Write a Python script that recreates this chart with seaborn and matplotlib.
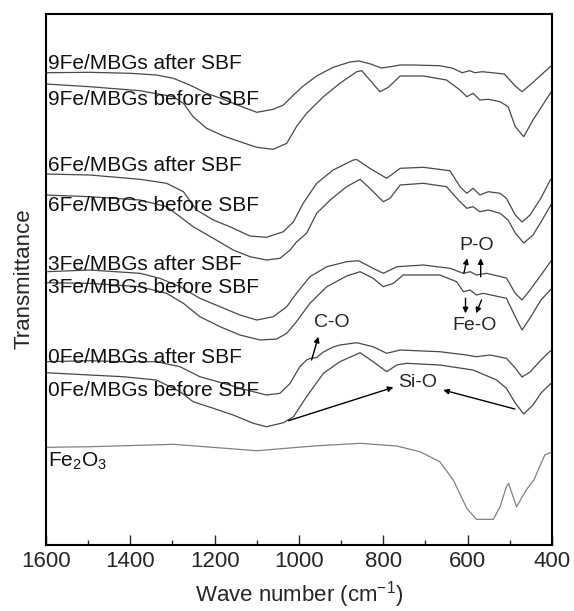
import numpy as np
import matplotlib
matplotlib.use("Agg")
import matplotlib.pyplot as plt
from matplotlib.ticker import MultipleLocator
import seaborn as sns

# FTIR spectra (wave number in cm-1, vertical
# position as depth from the top of the frame in px, converted below)
w_9fe_after = [1600, 1496, 1400, 1338, 1298, 1259, 1219, 1179, 1140, 1100, 1061, 1037, 1013, 990, 958, 919, 879, 858,
               830, 805, 780, 760, 729, 666, 635, 613, 595, 583, 565, 513, 487, 471, 452, 426, 404, 400]
d_9fe_after = [72.7, 72.3, 73.3, 75, 78.3, 85, 93.3, 99.3, 106, 112.3, 109.3, 105, 95, 86, 76, 67.3, 62, 61,
               64, 68, 66.5, 65, 65, 65.7, 68.3, 72.7, 70.7, 72.7, 71.7, 74, 86, 91.7, 85, 75, 66.7, 65]

w_9fe_before = [1600, 1496, 1377, 1298, 1274, 1251, 1219, 1179, 1140, 1100, 1061, 1029, 1006, 982, 942, 903, 863, 851,
                832, 808, 788, 760, 705, 650, 618, 602, 587, 571, 551, 523, 504, 487, 467, 445, 404, 400]
d_9fe_before = [84, 86.7, 90.7, 96.7, 103.3, 116.7, 128.3, 136, 141.7, 147.3, 149.3, 143.3, 126.7, 113.3, 96.7, 83.3, 71.7, 70.7,
                80, 91.7, 87.3, 76, 76, 80, 90, 96.7, 93.3, 100, 99.3, 101.7, 106.7, 126.7, 136.7, 120, 93.3, 91]

w_6fe_after = [1600, 1496, 1377, 1314, 1274, 1243, 1203, 1164, 1116, 1077, 1037, 1013, 990, 958, 919, 871, 863,
               832, 792, 760, 705, 642, 618, 602, 587, 571, 551, 523, 508, 487, 471, 452, 426, 404, 400]
d_6fe_after = [174, 175, 179.3, 183.3, 191.7, 210, 220, 226.7, 236, 237.3, 231.7, 221.7, 203.3, 183.3, 170, 160, 159.5,
               168.3, 178.3, 168.3, 167.3, 170.7, 186.7, 193.3, 188.3, 195, 191.7, 193.3, 198.3, 215, 222, 215, 198, 180, 178]

w_6fe_before = [1600, 1496, 1377, 1314, 1282, 1251, 1203, 1156, 1116, 1077, 1045, 1021, 1006, 982, 958, 926, 887, 855,
                832, 800, 784, 760, 705, 650, 622, 602, 587, 571, 551, 523, 504, 487, 467, 445, 426, 404, 400]
d_6fe_before = [195, 196.7, 200, 206.7, 216.7, 226.7, 238.3, 250, 256.7, 260, 258.3, 250, 242, 233.3, 213.3, 200, 186.7, 179.3,
                188.3, 201.7, 198.3, 185, 183.3, 186.7, 200, 208.3, 206.7, 211.7, 210, 213.3, 220, 233, 243, 235, 222, 206, 203]

w_3fe_after = [1600, 1496, 1377, 1330, 1282, 1235, 1187, 1140, 1100, 1061, 1029, 1006, 974, 934, 887, 859,
               824, 800, 768, 705, 642, 610, 594, 579, 555, 508, 487, 471, 452, 426, 404, 400]
d_3fe_after = [271.7, 270, 273.3, 278.3, 286.7, 298.3, 306.7, 315, 320, 316.7, 306.7, 293.3, 276.7, 266.7, 261.7, 260.7,
               268.3, 273.3, 266.7, 265, 268.3, 273.3, 271.7, 275, 273.3, 278, 293.3, 300, 290, 275, 262, 260]

w_3fe_before = [1600, 1496, 1377, 1314, 1274, 1235, 1187, 1140, 1092, 1053, 1029, 1006, 974, 934, 887, 855,
                824, 800, 776, 753, 666, 626, 610, 594, 579, 563, 508, 487, 471, 452, 426, 404, 400]
d_3fe_before = [282.7, 283.3, 286.7, 293.3, 303.3, 316.7, 326.7, 335, 340, 339, 333.3, 321.7, 303.3, 286.7, 276, 271.7,
                278.3, 286.7, 283.3, 275, 275, 281.7, 291.7, 290, 295, 293.3, 298.3, 316.7, 330, 318, 300, 290, 288]

w_0fe_after = [1600, 1496, 1417, 1338, 1282, 1235, 1179, 1124, 1077, 1045, 1021, 998, 982, 974, 958, 942, 919, 903, 863,
               824, 792, 760, 666, 602, 579, 547, 508, 487, 471, 452, 426, 404, 400]
d_0fe_after = [361.7, 360.7, 361.7, 361.7, 366.7, 376.7, 383.3, 390, 395, 393.3, 383.3, 366.7, 360, 358.5, 357.5, 352, 347, 345, 342.7,
               346.7, 353.3, 350, 351.7, 355, 356.7, 355, 358.3, 368, 377, 372, 360, 351, 350]

w_0fe_before = [1600, 1496, 1417, 1338, 1282, 1251, 1203, 1156, 1108, 1077, 1037, 1013, 982, 942, 903, 855,
                824, 792, 768, 745, 666, 587, 531, 508, 487, 467, 445, 426, 404, 400]
d_0fe_before = [372.7, 375, 376.7, 380, 391.7, 401.7, 408.3, 415, 423.3, 426.7, 422.7, 416.7, 396.7, 373.3, 361.7, 352.7,
                361.7, 371.7, 365, 363.3, 365, 370, 380, 388.3, 403, 414, 405, 393, 384, 383]

w_fe2o3 = [1600, 1496, 1298, 1100, 966, 855, 768, 713, 666, 634, 602, 579, 539, 523, 508, 503, 484, 461, 443, 417, 404, 400]
d_fe2o3 = [447.3, 446.7, 444.3, 450.7, 446, 443.3, 446, 451.7, 461.7, 480, 508.3, 519.3, 519.3, 506.7, 486.7, 483.3, 506.7,
           490, 480, 455, 452.7, 453]

series_names = ["9Fe/MBGs after SBF", "9Fe/MBGs before SBF", "6Fe/MBGs after SBF", "6Fe/MBGs before SBF",
                "3Fe/MBGs after SBF", "3Fe/MBGs before SBF", "0Fe/MBGs after SBF", "0Fe/MBGs before SBF",
                r"Fe$_2$O$_3$"]
wave = [w_9fe_after, w_9fe_before, w_6fe_after, w_6fe_before, w_3fe_after, w_3fe_before,
        w_0fe_after, w_0fe_before, w_fe2o3]
depth = [d_9fe_after, d_9fe_before, d_6fe_after, d_6fe_before, d_3fe_after, d_3fe_before,
         d_0fe_after, d_0fe_before, d_fe2o3]

BOTTOM = 544.5  # frame bottom in the reference, used to turn depth into transmittance (a.u.)

sns.set_style("ticks")
plt.rcParams["font.family"] = ["Liberation Sans", "DejaVu Sans"]
plt.rcParams["mathtext.fontset"] = "custom"
plt.rcParams["mathtext.rm"] = "Liberation Sans"
plt.rcParams["mathtext.it"] = "Liberation Sans"

fig = plt.figure(figsize=(5.74, 6.11), dpi=100)
ax = fig.add_axes([0.0801, 0.1088, 0.8815, 0.8691])

for i, (name, w, d) in enumerate(zip(series_names, wave, depth)):
    t = BOTTOM - np.array(d)
    col = "#808080" if i == 8 else "#484848"
    sns.lineplot(x=w, y=t, ax=ax, color=col, lw=0.9, sort=False, estimator=None)

# curve labels at the left edge
label_y = [63.5, 99, 165.5, 205, 264, 287.5, 357.5, 390.5]
for name, yc in zip(series_names[:8], label_y):
    ax.text(1595, BOTTOM - yc, name, fontsize=15, va="center", ha="left", color="#111111")
ax.text(1595, BOTTOM - 467, series_names[8], fontsize=15, va="baseline", ha="left", color="#111111")

# band assignments
ax.text(578, BOTTOM - 245, "P-O", fontsize=14, ha="center", va="center")
ax.text(583, BOTTOM - 325.5, "Fe-O", fontsize=14, ha="center", va="center")
ax.text(923, BOTTOM - 322.5, "C-O", fontsize=14, ha="center", va="center")
ax.text(719, BOTTOM - 382.5, "Si-O", fontsize=14, ha="center", va="center")

arrows = [((601, 286.2), (609, 271.2)), ((569, 286.2), (569, 267.8)),
          ((605, 231.2), (605, 246.2)), ((580, 231.2), (567, 244.5)),
          ((954, 207.8), (970, 184.5)),
          ((776, 157.2), (1025, 123.8)), ((658, 154.5), (488, 135.5))]
for head, tail in arrows:
    ax.annotate("", xy=head, xytext=tail,
                arrowprops=dict(arrowstyle="-|>", color="black", lw=1.0, mutation_scale=8,
                                shrinkA=0, shrinkB=0))

ax.set_xlim(1600, 400)
ax.set_ylim(0, BOTTOM - 13.5)
ax.xaxis.set_major_locator(MultipleLocator(200))
ax.xaxis.set_minor_locator(MultipleLocator(100))
ax.set_yticks([])
ax.tick_params(axis="x", which="major", direction="in", length=7, width=1, labelsize=16, pad=5, top=False)
ax.tick_params(axis="x", which="minor", direction="in", length=3.5, width=1, top=False)
for s in ax.spines.values():
    s.set_linewidth(1.5)
    s.set_color("black")

ax.set_xlabel("Wave number (cm$^{-1}$)", fontsize=16, labelpad=5)
ax.set_ylabel("Transmittance", fontsize=16, labelpad=8)

fig.savefig("out.png", dpi=100)
